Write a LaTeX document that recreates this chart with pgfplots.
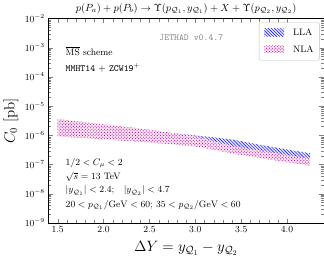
\documentclass[border=0pt]{standalone}
\usepackage{pgfplots}
\pgfplotsset{compat=1.18}
\usetikzlibrary{patterns}
\newcommand{\semi}{;}
\begin{document}
\begin{tikzpicture}
\begin{axis}[
  name=ax,
  width=264bp, height=196bp, scale only axis,
  ymode=log, ymin=1e-9, ymax=1e-2,
  xmin=1.4, xmax=4.4,
  xtick={1.5,2.0,2.5,3.0,3.5,4.0},
  xticklabels={1.5,2.0,2.5,3.0,3.5,4.0},
  minor x tick num=4,
  tick label style={font=\small},
  ytick={1e-9,1e-8,1e-7,1e-6,1e-5,1e-4,1e-3,1e-2},
]
\addplot[draw=none,fill=blue!10] coordinates {
 (1.5,2.75e-6) (2.0,1.95e-6) (2.5,1.39e-6) (3.0,1.0e-6) (3.4,7.2e-7) (3.8,4.2e-7) (4.25,2.41e-7)
 (4.25,1.47e-7) (3.8,2.55e-7) (3.4,4.2e-7) (3.0,7.2e-7) (2.5,9.2e-7) (2.0,1.3e-6) (1.5,1.82e-6) (1.5,2.75e-6)
};
\addplot[draw=none,pattern=north west lines,pattern color=blue] coordinates {
 (1.5,2.75e-6) (2.0,1.95e-6) (2.5,1.39e-6) (3.0,1.0e-6) (3.4,7.2e-7) (3.8,4.2e-7) (4.25,2.41e-7)
 (4.25,1.47e-7) (3.8,2.55e-7) (3.4,4.2e-7) (3.0,7.2e-7) (2.5,9.2e-7) (2.0,1.3e-6) (1.5,1.82e-6) (1.5,2.75e-6)
};
\addplot[draw=none,fill=magenta!12] coordinates {
 (1.5,3.63e-6) (2.0,2.4e-6) (2.5,1.58e-6) (3.0,9.2e-7) (3.4,4.4e-7) (3.8,2.7e-7) (4.25,1.6e-7)
 (4.25,9.2e-8) (3.8,1.5e-7) (3.4,2.41e-7) (3.0,4.2e-7) (2.5,5.7e-7) (2.0,7.3e-7) (1.5,9.2e-7) (1.5,3.63e-6)
};
\addplot[draw=none,pattern=crosshatch dots,pattern color=violet!80!magenta] coordinates {
 (1.5,3.63e-6) (2.0,2.4e-6) (2.5,1.58e-6) (3.0,9.2e-7) (3.4,4.4e-7) (3.8,2.7e-7) (4.25,1.6e-7)
 (4.25,9.2e-8) (3.8,1.5e-7) (3.4,2.41e-7) (3.0,4.2e-7) (2.5,5.7e-7) (2.0,7.3e-7) (1.5,9.2e-7) (1.5,3.63e-6)
};
\end{axis}
\node[anchor=south] at ([yshift=1bp]ax.north) {$p(P_a) + p(P_b) \to \Upsilon(p_{\mathcal{Q}_1}, y_{\mathcal{Q}_1}) + X + \Upsilon(p_{\mathcal{Q}_2}, y_{\mathcal{Q}_2})$};
\node[anchor=north] at ([yshift=-14bp]ax.south) {\Large$\Delta Y = y_{\mathcal{Q}_1} - y_{\mathcal{Q}_2}$};
\node[anchor=center,rotate=90] at ([xshift=-36bp]ax.west) {\Large$C_0$ [pb]};
\node[anchor=center,font=\small\ttfamily,text=black!45] at ([xshift=137bp,yshift=178bp]ax.south west) {JETHAD v0.4.7};
\node[anchor=west,font=\small] at ([xshift=13bp,yshift=165bp]ax.south west) {$\overline{\mathrm{MS}}$ scheme};
\node[anchor=west,font=\small] at ([xshift=13bp,yshift=149bp]ax.south west) {\texttt{MMHT14} $+$ \texttt{ZCW19}$^+$};
\node[anchor=west,font=\small] at ([xshift=13bp,yshift=57bp]ax.south west) {$1/2 < C_\mu < 2$};
\node[anchor=west,font=\small] at ([xshift=13bp,yshift=44bp]ax.south west) {$\sqrt{s} = 13$ TeV};
\node[anchor=west,font=\small] at ([xshift=13bp,yshift=31bp]ax.south west) {$\vert y_{\mathcal{Q}_1}\vert < 2.4$\semi\quad$\vert y_{\mathcal{Q}_2}\vert < 4.7$};
\node[anchor=west,font=\small] at ([xshift=13bp,yshift=17bp]ax.south west) {$20 < p_{\mathcal{Q}_1}/\mathrm{GeV} < 60$\semi{} $35 < p_{\mathcal{Q}_2}/\mathrm{GeV} < 60$};
\draw[black!25,rounded corners=2pt,fill=white] ([xshift=-62bp,yshift=-4bp]ax.north east) rectangle ([xshift=-4bp,yshift=-40bp]ax.north east);
\fill[blue!10] ([xshift=-57bp,yshift=-10bp]ax.north east) rectangle ([xshift=-38bp,yshift=-17bp]ax.north east);
\fill[pattern=north west lines,pattern color=blue] ([xshift=-57bp,yshift=-10bp]ax.north east) rectangle ([xshift=-38bp,yshift=-17bp]ax.north east);
\node[anchor=west,font=\small] at ([xshift=-33bp,yshift=-13.5bp]ax.north east) {LLA};
\fill[magenta!12] ([xshift=-57bp,yshift=-26bp]ax.north east) rectangle ([xshift=-38bp,yshift=-33bp]ax.north east);
\fill[pattern=crosshatch dots,pattern color=violet!80!magenta] ([xshift=-57bp,yshift=-26bp]ax.north east) rectangle ([xshift=-38bp,yshift=-33bp]ax.north east);
\node[anchor=west,font=\small] at ([xshift=-33bp,yshift=-29.5bp]ax.north east) {NLA};
\end{tikzpicture}
\end{document}
